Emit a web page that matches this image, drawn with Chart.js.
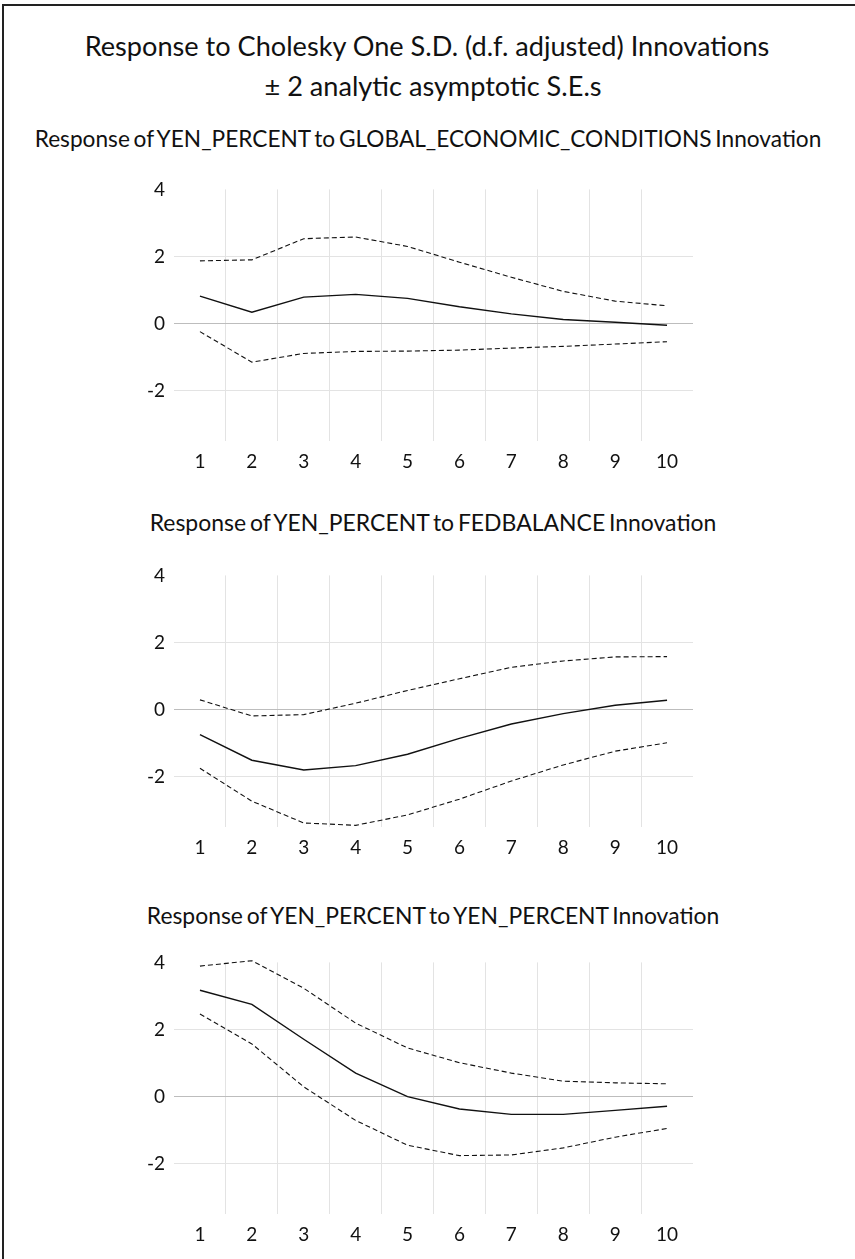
<!DOCTYPE html>
<html>
<head>
<meta charset="utf-8">
<script src="https://cdn.jsdelivr.net/npm/chart.js@4.4.1/dist/chart.umd.min.js"></script>
<style>
  body { margin: 0; background: #fff; width: 855px; height: 1259px; position: relative; overflow: hidden; }
  #frame { position: absolute; left: 2px; top: 4px; width: 860px; height: 1270px;
           border-top: 2px solid #222; border-left: 2px solid #222; }
  .txt { position: absolute; white-space: nowrap; transform: translate(-50%, -50%);
         font-family: Lato, "Open Sans", sans-serif; color: #111; line-height: 1; }
  .sub { word-spacing: -0.09em; }
  canvas { position: absolute; left: 0; }
</style>
</head>
<body>
<div id="frame"></div>
<div class="txt" id="t1" style="left:427px; top:46px;">Response to Cholesky One S.D. (d.f. adjusted) Innovations</div>
<div class="txt" id="t2" style="left:433px; top:86px;">± 2 analytic asymptotic S.E.s</div>
<div class="txt sub" id="s1" style="left:428px; top:139px;">Response of YEN_PERCENT to GLOBAL_ECONOMIC_CONDITIONS Innovation</div>
<div class="txt sub" id="s2" style="left:433px; top:522px;">Response of YEN_PERCENT to FEDBALANCE Innovation</div>
<div class="txt sub" id="s3" style="left:433px; top:915px;">Response of YEN_PERCENT to YEN_PERCENT Innovation</div>

<canvas id="chart1" width="720" height="312" style="top:169px"></canvas>
<canvas id="chart2" width="720" height="312" style="top:555px"></canvas>
<canvas id="chart3" width="720" height="312" style="top:942px"></canvas>

<script>
// periods after the shock
const periods = ['1', '2', '3', '4', '5', '6', '7', '8', '9', '10'];
const yTicks = [-2, 0, 2, 4];

// response to GLOBAL_ECONOMIC_CONDITIONS
const globalResp  = [0.82, 0.34, 0.79, 0.87, 0.75, 0.50, 0.29, 0.12, 0.04, -0.05];
const globalUpper = [1.87, 1.90, 2.53, 2.58, 2.30, 1.83, 1.38, 0.96, 0.67, 0.53];
const globalLower = [-0.24, -1.15, -0.89, -0.83, -0.82, -0.79, -0.73, -0.68, -0.61, -0.54];

// response to FEDBALANCE
const fedResp  = [-0.75, -1.51, -1.80, -1.67, -1.33, -0.86, -0.43, -0.12, 0.13, 0.28];
const fedUpper = [0.29, -0.19, -0.15, 0.19, 0.57, 0.92, 1.26, 1.45, 1.57, 1.58];
const fedLower = [-1.75, -2.73, -3.38, -3.45, -3.14, -2.67, -2.13, -1.65, -1.24, -0.99];

// response to YEN_PERCENT
const yenResp  = [3.17, 2.75, 1.71, 0.70, 0.00, -0.37, -0.53, -0.53, -0.41, -0.29];
const yenUpper = [3.89, 4.05, 3.23, 2.19, 1.45, 1.01, 0.70, 0.46, 0.41, 0.38];
const yenLower = [2.46, 1.57, 0.29, -0.71, -1.45, -1.76, -1.74, -1.53, -1.21, -0.95];

// shrink / grow a text element to a given width
function fitText(id, width) {
  const el = document.getElementById(id);
  el.style.fontSize = '20px';
  const w = el.getBoundingClientRect().width;
  const size = 20 * width / w;
  el.style.fontSize = size + 'px';
  return size;
}

const titleSize = fitText('t1', 685);
document.getElementById('t2').style.fontSize = titleSize + 'px';
fitText('s1', 787);
fitText('s2', 567);
fitText('s3', 573);

const tickFont = { family: 'Lato, "Open Sans", sans-serif', size: 19 };

function makePanel(id, resp, upper, lower) {
  const line = (data, dashed) => ({
    data: data,
    borderColor: '#111',
    borderWidth: dashed ? 1.1 : 1.4,
    borderDash: dashed ? [5, 3] : [],
    pointRadius: 0,
    tension: 0,
    fill: false,
    clip: false
  });

  return new Chart(document.getElementById(id), {
    type: 'line',
    data: {
      labels: periods,
      datasets: [line(upper, true), line(resp, false), line(lower, true)]
    },
    options: {
      responsive: false,
      animation: false,
      layout: { padding: { top: 12, right: 27, bottom: 0, left: 0 } },
      plugins: { legend: { display: false }, tooltip: { enabled: false } },
      scales: {
        x: {
          offset: true,
          border: { display: false },
          grid: {
            offset: true,
            drawTicks: false,
            color: ctx => (ctx.type !== 'tick' || ctx.index === 0) ? 'rgba(0,0,0,0)' : '#e3e3e3'
          },
          ticks: { color: '#111', font: tickFont, padding: 9, maxRotation: 0 },
          afterFit: scale => { scale.height = 40; }
        },
        y: {
          min: -3.5,
          max: 4,
          border: { display: false },
          grid: {
            drawTicks: false,
            color: ctx => {
              if (!ctx.tick) return 'rgba(0,0,0,0)';
              if (ctx.tick.value === 0) return '#bdbdbd';
              if (ctx.tick.value === 4) return 'rgba(0,0,0,0)';
              return '#e3e3e3';
            }
          },
          ticks: { color: '#111', font: tickFont, padding: 9 },
          afterBuildTicks: scale => { scale.ticks = yTicks.map(v => ({ value: v })); },
          afterFit: scale => { scale.width = 174; }
        }
      }
    }
  });
}

makePanel('chart1', globalResp, globalUpper, globalLower);
makePanel('chart2', fedResp, fedUpper, fedLower);
makePanel('chart3', yenResp, yenUpper, yenLower);
</script>
</body>
</html>
